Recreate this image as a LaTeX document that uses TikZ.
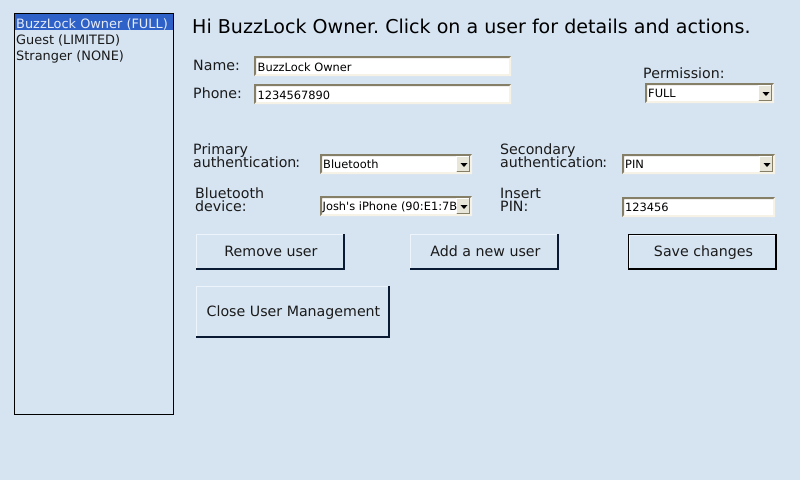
\documentclass[tikz,border=0pt]{standalone}
\usepackage{fontspec}
\setmainfont{DejaVu Sans}
\newfontfamily\plainf{DejaVu Sans}
\definecolor{bgc}{HTML}{D6E4F2}
\definecolor{sel}{HTML}{2F62C8}
\definecolor{dk}{HTML}{857F68}
\definecolor{lt}{HTML}{F6F3E6}
\definecolor{btnd}{HTML}{0B1A33}
\definecolor{btnl}{HTML}{EDF4FB}
\definecolor{arrowbg}{HTML}{E8E6D8}
\definecolor{txt}{HTML}{1A1A1A}
\newcommand{\fs}[1]{\fontsize{#1}{#1}\selectfont\frenchspacing}
\tikzset{x=1pt,y=-1pt,
  lbl/.style={inner sep=0pt,anchor=base west,text=txt,font=\fs{14.2}},
  val/.style={inner sep=0pt,anchor=base west,text=black,font=\plainf\fs{11.4}},
  btntxt/.style={inner sep=0pt,anchor=base,text=txt,font=\fs{14.2}},
  listtxt/.style={inner sep=0pt,anchor=base west,text=txt,font=\fs{12.9}},
}
% x0 y0 x1 y1
\newcommand{\sunken}[4]{%
  \fill[white] (#1,#2) rectangle (#3,#4);
  \fill[lt] (#1,#4) -- (#3,#4) -- (#3,#2) -- (#3-2,#2+2) -- (#3-2,#4-2) -- (#1+2,#4-2) -- cycle;
  \fill[dk] (#1,#4) -- (#1,#2) -- (#3,#2) -- (#3-2,#2+2) -- (#1+2,#2+2) -- (#1+2,#4-2) -- cycle;
}
\newcommand{\combo}[4]{%
  \sunken{#1}{#2}{#3}{#4}
  \fill[arrowbg] (#3-16,#2+2) rectangle (#3-2,#4-2);
  \draw[dk,line width=1pt] (#3-15.5,#4-2.5) -- (#3-2.5,#4-2.5) -- (#3-2.5,#2+2);
  \draw[white,line width=1pt] (#3-15.5,#4-3) -- (#3-15.5,#2+2.5) -- (#3-3,#2+2.5);
  \fill[black] (#3-11.5,#2+9) -- (#3-4.5,#2+9) -- (#3-8,#2+13) -- cycle;
}
\newcommand{\btn}[4]{%
  \fill[bgc] (#1,#2) rectangle (#3,#4);
  \fill[btnl] (#1,#2) rectangle (#3,#2+1);
  \fill[btnl] (#1,#2) rectangle (#1+1,#4);
  \fill[btnd] (#1,#4-2) rectangle (#3,#4);
  \fill[btnd] (#3-2,#2) rectangle (#3,#4);
}
\begin{document}
\begin{tikzpicture}
\useasboundingbox (0,0) rectangle (800,480);
\fill[bgc] (0,0) rectangle (800,480);
% list
\fill[sel] (15,14) rectangle (173,30);
\draw[black,line width=1pt] (14.5,13.5) rectangle (173.5,414.5);
\node[listtxt,text=white!88!sel] (u1) at (16,28) {BuzzLock Owner (FULL)};
\node[listtxt] (u2) at (16,44) {Guest (LIMITED)};
\node[listtxt] (u3) at (16,60) {Stranger (NONE)};
% title
\node[inner sep=0pt,anchor=base west,text=black,font=\fs{19.07}] (title) at (192,33) {Hi BuzzLock Owner. Click on a user for details and actions.};
% name / phone
\node[lbl] (lname) at (193,70) {Name:};
\node[lbl] (lphone) at (193,98) {Phone:};
\sunken{254}{56}{511}{76}
\node[val] (vname) at (257.5,71) {BuzzLock Owner};
\sunken{254}{84}{511}{104}
\node[val] (vphone) at (257.5,99) {1234567890};
% permission
\node[lbl] (lperm) at (643,78) {Permission:};
\combo{645}{83}{774}{103}
\node[val] (vperm) at (648,97) {FULL};
% primary
\begin{scope}
\clip (190,140) rectangle (298,172);
\node[lbl] (lprim1) at (193,154) {Primary};
\node[lbl] (lprim2) at (193,167) {authentication\kern-1pt:};
\end{scope}
\combo{320}{154}{472}{174}
\node[val] (vprim) at (323,168) {Bluetooth};
% secondary
\begin{scope}
\clip (497,140) rectangle (605,172);
\node[lbl] (lsec1) at (500,154) {Secondary};
\node[lbl] (lsec2) at (500,167) {authentication\kern-1pt:};
\end{scope}
\combo{622}{154}{775}{174}
\node[val] (vsec) at (625,168) {PIN};
% device
\node[lbl] (ldev1) at (195,198) {Bluetooth};
\node[lbl] (ldev2) at (195,211) {device:};
\combo{320}{196}{472}{216}
\begin{scope}
\clip (322,196) rectangle (456,216);
\node[val] (vdev) at (322.5,210) {Josh's iPhone (90:E1:7B:};
\end{scope}
% pin
\node[lbl] (lpin1) at (500,198) {Insert};
\node[lbl] (lpin2) at (500,211) {PIN:};
\sunken{622}{197}{775}{217}
\node[val] (vpin) at (625,211) {123456};
% buttons
\btn{196}{234}{345}{270}
\node[btntxt] (bremove) at (271,256) {Remove user};
\btn{410}{234}{559}{270}
\node[btntxt] (badd) at (485.5,256) {Add a new user};
\fill[black] (628,234) rectangle (777,270);
\fill[bgc] (630,236) rectangle (775,268);
\draw[btnl,line width=1pt] (629.5,267.5) -- (629.5,235.5) -- (775,235.5);
\node[btntxt] (bsave) at (703.5,256) {Save changes};
\btn{196}{286}{390}{338}
\node[btntxt] (bclose) at (293.5,316) {Close User Management};
\end{tikzpicture}
\end{document}
